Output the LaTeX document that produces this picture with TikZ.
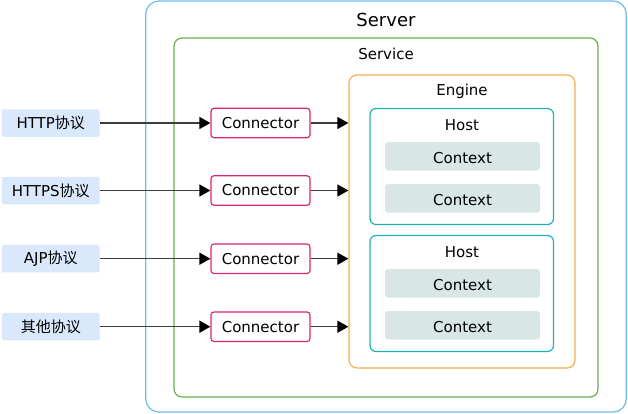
\documentclass[tikz,border=0pt]{standalone}
\usepackage{fontspec}
\setmainfont{DejaVu Sans}
\newfontfamily\cjk{Noto Sans CJK SC}
\usetikzlibrary{arrows.meta}
\definecolor{srvc}{HTML}{6DBDEB}
\definecolor{svcc}{HTML}{67B04F}
\definecolor{engc}{HTML}{F5AE50}
\definecolor{hostc}{HTML}{1FB3B0}
\definecolor{ctxf}{HTML}{D8E6E6}
\definecolor{protf}{HTML}{DAE8FC}
\definecolor{connc}{HTML}{D92676}
\definecolor{arrc}{HTML}{3C3C3C}
\tikzset{
  box/.style={draw, line width=1.2pt, inner sep=0pt},
  lbl/.style={font=\fontsize{15}{18}\selectfont, inner sep=0pt, anchor=center},
  protbox/.style={fill=protf, draw=none, rounded corners=2pt, minimum width=97.5pt, minimum height=27.5pt, inner sep=0pt, font=\fontsize{15}{18}\selectfont},
  connbox/.style={box, draw=connc, fill=white, rounded corners=3pt, minimum width=99pt, minimum height=29.5pt, font=\fontsize{15}{18}\selectfont},
  ctxbox/.style={fill=ctxf, draw=none, rounded corners=3pt, minimum width=155pt, minimum height=28.5pt, inner sep=0pt, text height=14pt, text depth=0pt, font=\fontsize{15}{18}\selectfont},
  hostbox/.style={box, draw=hostc, rounded corners=6pt, minimum width=183.5pt, minimum height=116pt},
  arr/.style={draw=arrc, line width=1.4pt, -{Triangle[length=11pt,width=12pt,color=black]}},
}
\begin{document}
\begin{tikzpicture}[x=1pt,y=-1pt]
\useasboundingbox (0,0) rectangle (628,413);
% containers
\node[box, draw=srvc, rounded corners=13pt, minimum width=480.5pt, minimum height=411pt] (server) at (386,206.5) {};
\node[lbl, font=\fontsize{18}{21}\selectfont] (servert) at (386,20) {Server};
\node[box, draw=svcc, rounded corners=8pt, minimum width=424pt, minimum height=359pt] (service) at (386,217.5) {};
\node[lbl] (servicet) at (386,54) {Service};
\node[box, draw=engc, rounded corners=8pt, minimum width=226pt, minimum height=293pt] (engine) at (462,221.5) {};
\node[lbl] (enginet) at (462,91.5) {Engine};
% hosts
\node[hostbox] (host1) at (461.75,166.5) {};
\node[lbl] (host1t) at (462,125) {Host};
\node[ctxbox] (ctx1) at (462.5,156.3) {Context};
\node[ctxbox] (ctx2) at (462.5,198.3) {Context};
\node[hostbox] (host2) at (461.75,293.5) {};
\node[lbl] (host2t) at (462,252) {Host};
\node[ctxbox] (ctx3) at (462.5,283.3) {Context};
\node[ctxbox] (ctx4) at (462.5,325.3) {Context};
% protocols
\node[protbox] (p1) at (50.75,123) {HTTP{\cjk 协议}};
\node[protbox] (p2) at (50.75,190.5) {HTTPS{\cjk 协议}};
\node[protbox] (p3) at (50.75,258.7) {AJP{\cjk 协议}};
\node[protbox] (p4) at (50.75,326.7) {{\cjk 其他协议}};
% connectors
\node[connbox] (c1) at (260.5,123) {Connector};
\node[connbox] (c2) at (260.5,190.5) {Connector};
\node[connbox] (c3) at (260.5,258.7) {Connector};
\node[connbox] (c4) at (260.5,326.7) {Connector};
% arrows
\foreach \i in {1,2,3,4}{
  \draw[arr] (p\i.east) -- (c\i.west);
  \draw[arr] (c\i.east) -- (c\i.east -| engine.west);
}
\end{tikzpicture}
\end{document}
